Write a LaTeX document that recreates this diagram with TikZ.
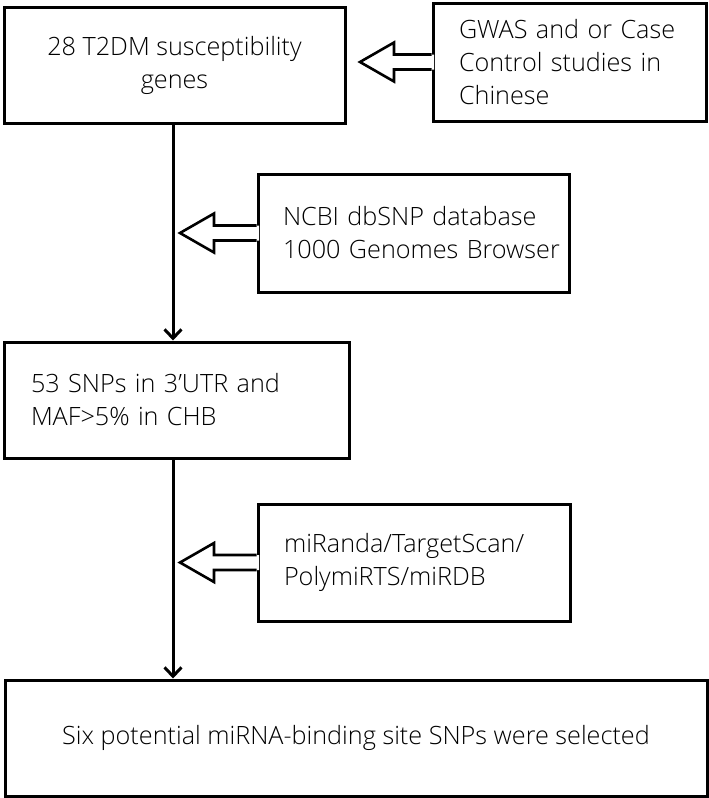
\documentclass[tikz,border=0pt]{standalone}
\usepackage{fontspec}
\setmainfont{Open Sans}[UprightFont=* Light]
\usetikzlibrary{calc,arrows.meta}
\begin{document}
\begin{tikzpicture}[x=1pt,y=-1pt,
  box/.style={draw=black,line width=3pt,fill=white,inner sep=0pt,
    font=\fontsize{25.2}{33}\selectfont},
  conn/.style={line width=3pt,-{Straight Barb[length=9pt,width=17pt,line width=3pt]}},
  hollow/.style={line width=2.6pt,line join=miter}]
\useasboundingbox (0,0) rectangle (709,798);
\node[box,minimum width=341pt,minimum height=116pt,align=center] (b1) at (174.5,65)
  {28 T2DM susceptibility\\genes};
\node[box,minimum width=273pt,minimum height=118pt,text width=221pt,align=left] (b2) at (569.5,62)
  {\mbox{GWAS and or Case}\\\mbox{Control studies in}\\Chinese};
\node[box,minimum width=311pt,minimum height=118pt,text width=261pt,align=left] (b3) at (413.5,233)
  {\mbox{NCBI dbSNP database}\\\mbox{1000 Genomes Browser}};
\node[box,minimum width=345pt,minimum height=116pt,text width=291pt,align=left] (b4) at (176.5,400)
  {\mbox{53 SNPs in 3’UTR and}\\\mbox{MAF>5\% in CHB}};
\node[box,minimum width=312pt,minimum height=117pt,text width=260pt,align=left] (b5) at (414,562.5)
  {\mbox{miRanda/TargetScan/}\\\mbox{PolymiRTS/miRDB}};
\node[box,minimum width=702pt,minimum height=116pt,align=center] (b6) at (356,738)
  {Six potential miRNA-binding site SNPs were selected};
\coordinate (lx) at (173,0);
\draw[conn] (b1.south -| lx) -- (b4.north -| lx);
\draw[conn] (b4.south -| lx) -- (b6.north -| lx);
% hollow arrows
\coordinate (t1) at (360,62);
\coordinate (t2) at (180,233);
\coordinate (t3) at (180,562.5);
\foreach \s/\t in {b2/t1,b3/t2,b5/t3}{
  \fill[white] ($(\s.west)+(2.5,-7.5)$) -- ($(\t)+(34,-7.5)$) -- ($(\t)+(34,-19.5)$) -- (\t)
     -- ($(\t)+(34,19.5)$) -- ($(\t)+(34,7.5)$) -- ($(\s.west)+(2.5,7.5)$) -- cycle;
  \draw[hollow] (\s.west |- {$(\t)+(0,-7.5)$}) -- ($(\t)+(34,-7.5)$) -- ($(\t)+(34,-19.5)$) -- (\t)
     -- ($(\t)+(34,19.5)$) -- ($(\t)+(34,7.5)$) -- (\s.west |- {$(\t)+(0,7.5)$});
}
\end{tikzpicture}
\end{document}
